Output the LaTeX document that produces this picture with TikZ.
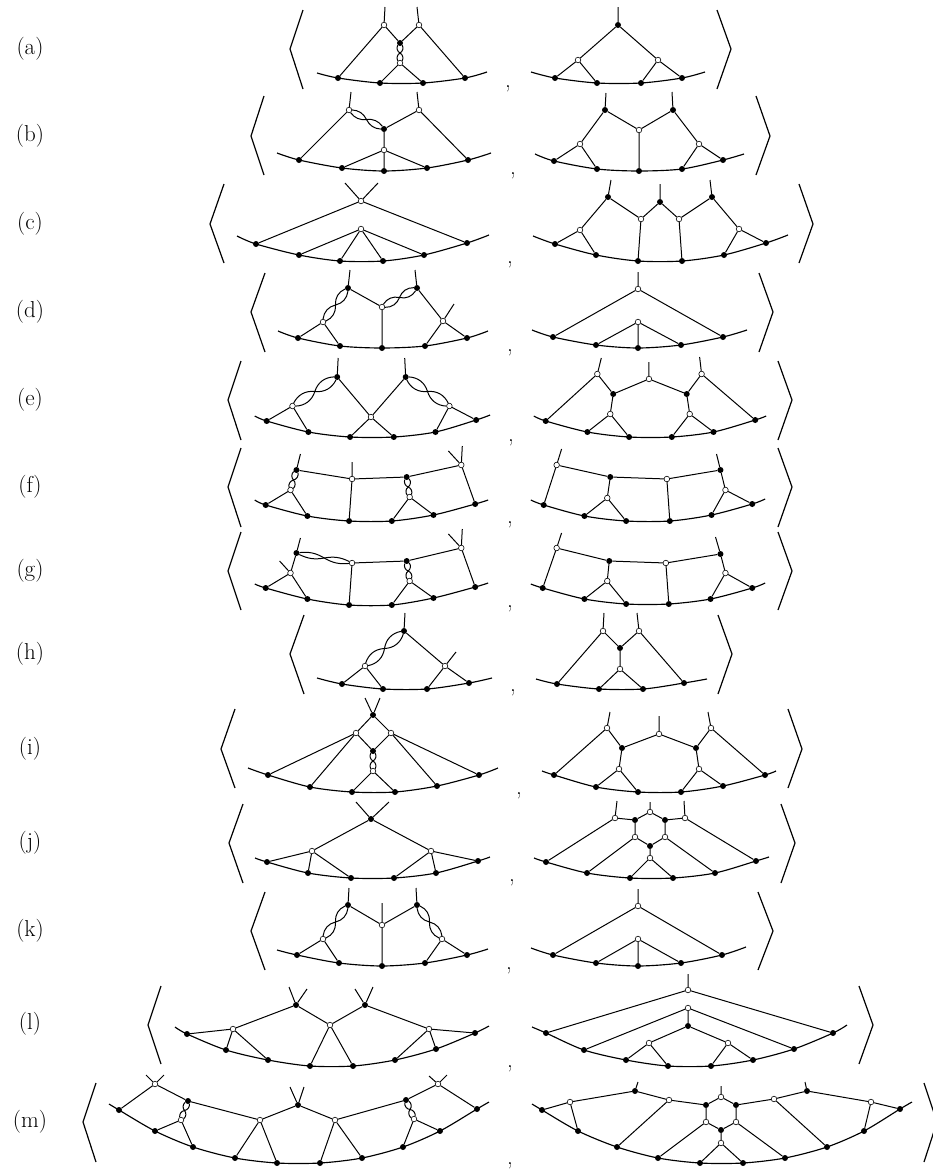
\documentclass[tikz,border=0pt]{standalone}
\usepackage{tikz}
\usetikzlibrary{calc}
\newcommand{\twist}[3][35]{
  \coordinate (#2#3) at ($(#2)!.5!(#3)$);
  \draw[link] (#2) to[bend left=#1] (#2#3) to[bend right=#1] (#3);
  \draw[link] (#2) to[bend right=#1] (#2#3) to[bend left=#1] (#3);
}
\begin{document}
\begin{tikzpicture}[
    x=1pt, y=-1pt,
    blackv/.style={circle, fill=black, inner sep=0pt, minimum size=6pt},
    whitev/.style={circle, draw=black, line width=.6pt, fill=white, inner sep=0pt, minimum size=5.6pt},
    link/.style={line width=1pt, black},
    rim/.style={line width=1.15pt, black},
    brak/.style={line width=1.2pt, black},
    tag/.style={font=\fontsize{23}{27}\selectfont},
    sep/.style={font=\fontsize{23}{27}\selectfont, anchor=base, yshift=1pt}
]
    \useasboundingbox (0,0) rectangle (933,1171);

    \node[tag] (aT) at (30,49) {(a)};
    \node[tag] (bT) at (30,136) {(b)};
    \node[tag] (cT) at (30,224) {(c)};
    \node[tag] (dT) at (30,312) {(d)};
    \node[tag] (eT) at (30,400) {(e)};
    \node[tag] (fT) at (30,487) {(f)};
    \node[tag] (gT) at (30,571) {(g)};
    \node[tag] (hT) at (30,654) {(h)};
    \node[tag] (iT) at (30,749) {(i)};
    \node[tag] (jT) at (30,843) {(j)};
    \node[tag] (kT) at (30,931) {(k)};
    \node[tag] (lT) at (30,1024) {(l)};
    \node[tag] (mT) at (30,1122) {(m)};

    \node[sep] (aC) at (508,88) {,};
    \node[sep] (bC) at (513,175) {,};
    \node[sep] (cC) at (510,264) {,};
    \node[sep] (dC) at (510,352) {,};
    \node[sep] (eC) at (511,442) {,};
    \node[sep] (fC) at (510,524) {,};
    \node[sep] (gC) at (510,608) {,};
    \node[sep] (hC) at (513,692) {,};
    \node[sep] (iC) at (519,795) {,};
    \node[sep] (jC) at (512,882) {,};
    \node[sep] (kC) at (509,970) {,};
    \node[sep] (lC) at (510,1068) {,};
    \node[sep] (mC) at (510,1165) {,};

    \draw[brak] (303,10) -- (290,49) -- (303,89);
    \draw[brak] (717,10) -- (731,49) -- (717,89);
    \draw[brak] (264,96) -- (251,136) -- (264,175);
    \draw[brak] (756,96) -- (770,136) -- (756,175);
    \draw[brak] (224,184) -- (210,224) -- (224,263);
    \draw[brak] (799,184) -- (813,224) -- (799,263);
    \draw[brak] (265,273) -- (251,312) -- (265,352);
    \draw[brak] (759,273) -- (773,312) -- (759,352);
    \draw[brak] (241,361) -- (228,400) -- (241,440);
    \draw[brak] (778,361) -- (792,400) -- (778,440);
    \draw[brak] (241,448) -- (228,487) -- (241,527);
    \draw[brak] (778,448) -- (792,487) -- (778,527);
    \draw[brak] (241,532) -- (228,571) -- (241,610);
    \draw[brak] (778,532) -- (792,571) -- (778,610);
    \draw[brak] (304,615) -- (290,654) -- (304,694);
    \draw[brak] (718,615) -- (732,654) -- (718,694);
    \draw[brak] (235,709) -- (221,749) -- (235,788);
    \draw[brak] (788,709) -- (802,749) -- (788,788);
    \draw[brak] (243,804) -- (229,843) -- (243,883);
    \draw[brak] (781,804) -- (795,843) -- (781,883);
    \draw[brak] (265,892) -- (251,931) -- (265,970);
    \draw[brak] (758,892) -- (773,931) -- (758,970);
    \draw[brak] (161,986) -- (148,1025) -- (161,1064);
    \draw[brak] (859,986) -- (873,1025) -- (859,1064);
    \draw[brak] (96,1083) -- (83,1122) -- (96,1162);
    \draw[brak] (924,1083) -- (937,1122) -- (924,1162);

    \foreach \n/\x/\y in {aL1/338/78, aL2/380/83, aL3/423/83, aL4/465/78, aLk1/400/43, aR1/555/78, aR2/597/83, aR3/641/83, aR4/682/78, aRk1/618/25} \node[blackv] (\n) at (\x,\y) {};
    \foreach \n/\x/\y in {aLw1/384/25, aLw2/419/25, aLw3/400/63, aRw1/578/60, aRw2/658/60} \node[whitev] (\n) at (\x,\y) {};
    \foreach \n/\x/\y in {aLe1/385/7, aLe2/417/7, aLr1/317/73, aLr2/487/72, aRe1/618/7, aRr1/531/72, aRr2/705/72} \coordinate (\n) at (\x,\y);
    \draw[rim] plot[smooth] coordinates {(aLr1) (aL1.center) (aL2.center) (aL3.center) (aL4.center) (aLr2)};
    \draw[rim] plot[smooth] coordinates {(aRr1) (aR1.center) (aR2.center) (aR3.center) (aR4.center) (aRr2)};
    \draw[link] (aLw1) -- (aLe1) (aLw2) -- (aLe2) (aLw1) -- (aLk1) (aLw2) -- (aLk1) (aLw1) -- (aL1) (aLw2) -- (aL4) (aLw3) -- (aL2) (aLw3) -- (aL3);
    \twist[45]{aLk1}{aLw3}
    \draw[link] (aRk1) -- (aRe1) (aRk1) -- (aRw1) (aRk1) -- (aRw2) (aRw1) -- (aR1) (aRw1) -- (aR2) (aRw2) -- (aR3) (aRw2) -- (aR4);

    \foreach \n/\x/\y in {bL1/299/160, bL2/342/168, bL3/384/171, bL4/427/168, bL5/468/160, bLk1/384/129, bR1/554/161, bR2/597/169, bR3/639/171, bR4/682/169, bR5/723/160, bRk1/605/110, bRk2/673/110} \node[blackv] (\n) at (\x,\y) {};
    \foreach \n/\x/\y in {bLw1/349/110, bLw2/419/110, bLw3/384/150, bRw1/639/130, bRw2/580/144, bRw3/699/144} \node[whitev] (\n) at (\x,\y) {};
    \foreach \n/\x/\y in {bLe1/351/92, bLe2/417/92, bLr1/277/153, bLr2/491/153, bRe1/606/93, bRe2/672/92, bRr1/535/154, bRr2/744/154} \coordinate (\n) at (\x,\y);
    \draw[rim] plot[smooth] coordinates {(bLr1) (bL1.center) (bL2.center) (bL3.center) (bL4.center) (bL5.center) (bLr2)};
    \draw[rim] plot[smooth] coordinates {(bRr1) (bR1.center) (bR2.center) (bR3.center) (bR4.center) (bR5.center) (bRr2)};
    \draw[link] (bLw1) -- (bLe1) (bLw2) -- (bLe2) (bLw2) -- (bLk1) (bLk1) -- (bLw3) (bLw3) -- (bL2) (bLw3) -- (bL3) (bLw3) -- (bL4) (bLw1) -- (bL1) (bLw2) -- (bL5);
    \twist[30]{bLw1}{bLk1}
    \draw[link] (bRk1) -- (bRe1) (bRk2) -- (bRe2) (bRk1) -- (bRw1) (bRk2) -- (bRw1) (bRw1) -- (bR3) (bRk1) -- (bRw2) (bRk2) -- (bRw3) (bRw2) -- (bR1) (bRw2) -- (bR2) (bRw3) -- (bR4) (bRw3) -- (bR5);

    \foreach \n/\x/\y in {cL1/256/244, cL2/299/255, cL3/340/261, cL4/383/261, cL5/424/255, cL6/467/243, cR1/555/244, cR2/596/255, cR3/638/261, cR4/682/261, cR5/724/255, cR6/766/243, cRk1/608/197, cRk2/660/202, cRk3/712/197} \node[blackv] (\n) at (\x,\y) {};
    \foreach \n/\x/\y in {cLw1/361/201, cLw2/361/229, cRw1/641/219, cRw2/679/219, cRw3/580/230, cRw4/739/229} \node[whitev] (\n) at (\x,\y) {};
    \foreach \n/\x/\y in {cLe1/345/183, cLe2/378/183, cLr1/237/236, cLr2/489/235, cRe1/611/180, cRe2/660/184, cRe3/710/180, cRr1/533/236, cRr2/788/235} \coordinate (\n) at (\x,\y);
    \draw[rim] plot[smooth] coordinates {(cLr1) (cL1.center) (cL2.center) (cL3.center) (cL4.center) (cL5.center) (cL6.center) (cLr2)};
    \draw[rim] plot[smooth] coordinates {(cRr1) (cR1.center) (cR2.center) (cR3.center) (cR4.center) (cR5.center) (cR6.center) (cRr2)};
    \draw[link] (cLw1) -- (cLe1) (cLw1) -- (cLe2) (cLw1) -- (cL1) (cLw1) -- (cL6) (cLw2) -- (cL2) (cLw2) -- (cL3) (cLw2) -- (cL4) (cLw2) -- (cL5);
    \draw[link] (cRk1) -- (cRe1) (cRk2) -- (cRe2) (cRk3) -- (cRe3) (cRk1) -- (cRw1) (cRk2) -- (cRw1) (cRk2) -- (cRw2) (cRk3) -- (cRw2) (cRw1) -- (cR3) (cRw2) -- (cR4) (cRk1) -- (cRw3) (cRk3) -- (cRw4) (cRw3) -- (cR1) (cRw3) -- (cR2) (cRw4) -- (cR5) (cRw4) -- (cR6);

    \foreach \n/\x/\y in {dL1/298/338, dL2/340/346, dL3/382/348, dL4/425/346, dL5/467/338, dLk1/348/288, dLk2/417/288, dR1/553/337, dR2/596/345, dR3/638/348, dR4/681/345, dR5/723/337} \node[blackv] (\n) at (\x,\y) {};
    \foreach \n/\x/\y in {dLw1/382/307, dLw2/323/322, dLw3/443/321, dRw1/638/289, dRw2/638/322} \node[whitev] (\n) at (\x,\y) {};
    \foreach \n/\x/\y in {dLe1/350/270, dLe2/415/270, dLe3/454/304, dLr1/278/331, dLr2/488/331, dRe1/638/272, dRr1/532/330, dRr2/747/330} \coordinate (\n) at (\x,\y);
    \draw[rim] plot[smooth] coordinates {(dLr1) (dL1.center) (dL2.center) (dL3.center) (dL4.center) (dL5.center) (dLr2)};
    \draw[rim] plot[smooth] coordinates {(dRr1) (dR1.center) (dR2.center) (dR3.center) (dR4.center) (dR5.center) (dRr2)};
    \draw[link] (dLk1) -- (dLe1) (dLk2) -- (dLe2) (dLw3) -- (dLe3) (dLk1) -- (dLw1) (dLk2) -- (dLw3) (dLw1) -- (dL3) (dLw2) -- (dL1) (dLw2) -- (dL2) (dLw3) -- (dL4) (dLw3) -- (dL5);
    \twist{dLw2}{dLk1}
    \twist{dLw1}{dLk2}
    \draw[link] (dRw1) -- (dRe1) (dRw1) -- (dR1) (dRw1) -- (dR5) (dRw2) -- (dR2) (dRw2) -- (dR3) (dRw2) -- (dR4);

    \begin{scope}[x=.993pt, xshift=1.54pt]
    \foreach \n/\x/\y in {eL1/267/421, eL2/309/432, eL3/351/437, eL4/395/437, eL5/437/432, eL6/478/420, eLk1/338/377, eLk2/407/377, eR1/548/421, eR2/590/432, eR3/632/437, eR4/675/437, eR5/717/432, eR6/759/420, eRk1/616/394, eRk2/690/394} \node[blackv] (\n) at (\x,\y) {};
    \foreach \n/\x/\y in {eLw1/372/417, eLw2/293/406, eLw3/451/406, eRw1/600/374, eRw2/705/374, eRw3/652/379, eRw4/613/414, eRw5/693/414} \node[whitev] (\n) at (\x,\y) {};
    \foreach \n/\x/\y in {eLe1/339/358, eLe2/406/358, eLr1/255/416, eLr2/492/415, eRe1/604/358, eRe2/703/357, eRe3/652/362, eRr1/536/416, eRr2/770/416} \coordinate (\n) at (\x,\y);
    \draw[rim] plot[smooth] coordinates {(eLr1) (eL1.center) (eL2.center) (eL3.center) (eL4.center) (eL5.center) (eL6.center) (eLr2)};
    \draw[rim] plot[smooth] coordinates {(eRr1) (eR1.center) (eR2.center) (eR3.center) (eR4.center) (eR5.center) (eR6.center) (eRr2)};
    \draw[link] (eLk1) -- (eLe1) (eLk2) -- (eLe2) (eLk1) -- (eLw1) (eLk2) -- (eLw1) (eLw1) -- (eL3) (eLw1) -- (eL4) (eLw2) -- (eL1) (eLw2) -- (eL2) (eLw3) -- (eL5) (eLw3) -- (eL6);
    \twist{eLw2}{eLk1}
    \twist{eLk2}{eLw3}
    \draw[link] (eRw1) -- (eRe1) (eRw2) -- (eRe2) (eRw3) -- (eRe3) (eRw1) -- (eR1) (eRw2) -- (eR6) (eRw1) -- (eRk1) (eRw2) -- (eRk2) (eRk1) -- (eRw3) (eRk2) -- (eRw3) (eRk1) -- (eRw4) (eRk2) -- (eRw5) (eRw4) -- (eR2) (eRw4) -- (eR3) (eRw5) -- (eR4) (eRw5) -- (eR5);

    \foreach \n/\x/\y in {fL1/266/505, fL2/308/516, fL3/350/521, fL4/393/521, fL5/435/515, fL6/477/504, fLk1/297/470, fLk2/408/477, fR1/546/505, fR2/587/516, fR3/629/521, fR4/673/521, fR5/715/515, fR6/756/504, fRk1/613/477, fRk2/724/470} \node[blackv] (\n) at (\x,\y) {};
    \foreach \n/\x/\y in {fLw1/291/490, fLw2/353/479, fLw3/411/497, fLw4/463/465, fRw1/559/465, fRw2/670/479, fRw3/610/498, fRw4/729/490} \node[whitev] (\n) at (\x,\y) {};
    \foreach \n/\x/\y in {fLe1/301/454, fLe2/353/462, fLe3/464/446, fLe4/450/451, fLr1/255/500, fLr2/490/500, fRe1/564/449, fRe2/720/454, fRr1/533/500, fRr2/769/499} \coordinate (\n) at (\x,\y);
    \draw[rim] plot[smooth] coordinates {(fLr1) (fL1.center) (fL2.center) (fL3.center) (fL4.center) (fL5.center) (fL6.center) (fLr2)};
    \draw[rim] plot[smooth] coordinates {(fRr1) (fR1.center) (fR2.center) (fR3.center) (fR4.center) (fR5.center) (fR6.center) (fRr2)};
    \draw[link] (fLk1) -- (fLe1) (fLw2) -- (fLe2) (fLw4) -- (fLe3) (fLw4) -- (fLe4) (fLk1) -- (fLw2) (fLw2) -- (fLk2) (fLk2) -- (fLw4) (fLw2) -- (fL3) (fLw4) -- (fL6) (fLw1) -- (fL1) (fLw1) -- (fL2) (fLw3) -- (fL4) (fLw3) -- (fL5);
    \twist[45]{fLk1}{fLw1}
    \twist[45]{fLk2}{fLw3}
    \draw[link] (fRw1) -- (fRe1) (fRk2) -- (fRe2) (fRw1) -- (fRk1) (fRk1) -- (fRw2) (fRw2) -- (fRk2) (fRw1) -- (fR1) (fRk1) -- (fRw3) (fRw3) -- (fR2) (fRw3) -- (fR3) (fRw2) -- (fR4) (fRk2) -- (fRw4) (fRw4) -- (fR5) (fRw4) -- (fR6);

    \foreach \n/\x/\y in {gL1/266/588, gL2/308/599, gL3/350/605, gL4/393/605, gL5/435/598, gL6/477/587, gLk1/297/553, gLk2/408/561, gR1/545/588, gR2/587/599, gR3/629/604, gR4/672/604, gR5/714/599, gR6/756/588, gRk1/612/561, gRk2/724/554} \node[blackv] (\n) at (\x,\y) {};
    \foreach \n/\x/\y in {gLw1/291/573, gLw2/353/563, gLw3/411/581, gLw4/463/548, gRw1/559/548, gRw2/669/563, gRw3/610/581, gRw4/729/573} \node[whitev] (\n) at (\x,\y) {};
    \foreach \n/\x/\y in {gLe1/301/538, gLe2/280/561, gLe3/464/529, gLe4/450/534, gLr1/255/584, gLr2/490/583, gRe1/564/533, gRe2/719/537, gRr1/533/584, gRr2/769/583} \coordinate (\n) at (\x,\y);
    \draw[rim] plot[smooth] coordinates {(gLr1) (gL1.center) (gL2.center) (gL3.center) (gL4.center) (gL5.center) (gL6.center) (gLr2)};
    \draw[rim] plot[smooth] coordinates {(gRr1) (gR1.center) (gR2.center) (gR3.center) (gR4.center) (gR5.center) (gR6.center) (gRr2)};
    \draw[link] (gLk1) -- (gLe1) (gLw1) -- (gLe2) (gLw4) -- (gLe3) (gLw4) -- (gLe4) (gLk1) -- (gLw1) (gLw2) -- (gLk2) (gLk2) -- (gLw4) (gLw2) -- (gL3) (gLw4) -- (gL6) (gLw1) -- (gL1) (gLw1) -- (gL2) (gLw3) -- (gL4) (gLw3) -- (gL5);
    \twist[18]{gLk1}{gLw2}
    \twist[45]{gLk2}{gLw3}
    \draw[link] (gRw1) -- (gRe1) (gRk2) -- (gRe2) (gRw1) -- (gRk1) (gRk1) -- (gRw2) (gRw2) -- (gRk2) (gRw1) -- (gR1) (gRk1) -- (gRw3) (gRw3) -- (gR2) (gRw3) -- (gR3) (gRw2) -- (gR4) (gRk2) -- (gRw4) (gRw4) -- (gR5) (gRw4) -- (gR6);
    \end{scope}

    \foreach \n/\x/\y in {hL1/342/684, hL2/383/689, hL3/427/689, hL4/469/683, hLk1/404/631, hR1/557/684, hR2/599/689, hR3/643/689, hR4/684/683, hRk1/620/648} \node[blackv] (\n) at (\x,\y) {};
    \foreach \n/\x/\y in {hLw1/365/666, hLw2/445/666, hRw1/603/631, hRw2/639/631, hRw3/620/669} \node[whitev] (\n) at (\x,\y) {};
    \foreach \n/\x/\y in {hLe1/405/613, hLe2/456/652, hLr1/317/678, hLr2/492/678, hRe1/604/613, hRe2/637/613, hRr1/536/679, hRr2/707/679} \coordinate (\n) at (\x,\y);
    \draw[rim] plot[smooth] coordinates {(hLr1) (hL1.center) (hL2.center) (hL3.center) (hL4.center) (hLr2)};
    \draw[rim] plot[smooth] coordinates {(hRr1) (hR1.center) (hR2.center) (hR3.center) (hR4.center) (hRr2)};
    \draw[link] (hLk1) -- (hLe1) (hLw2) -- (hLe2) (hLk1) -- (hLw2) (hLw1) -- (hL1) (hLw1) -- (hL2) (hLw2) -- (hL3) (hLw2) -- (hL4);
    \twist{hLw1}{hLk1}
    \draw[link] (hRw1) -- (hRe1) (hRw2) -- (hRe2) (hRw1) -- (hRk1) (hRw2) -- (hRk1) (hRk1) -- (hRw3) (hRw3) -- (hR2) (hRw3) -- (hR3) (hRw1) -- (hR1) (hRw2) -- (hR4);

    \foreach \n/\x/\y in {iL1/268/775, iL2/310/787, iL3/352/792, iL4/395/792, iL5/437/786, iL6/479/775, iLk1/373/715, iLk2/373/751, iR1/554/775, iR2/596/787, iR3/638/792, iR4/681/792, iR5/723/786, iR6/765/775, iRk1/622/748, iRk2/696/748} \node[blackv] (\n) at (\x,\y) {};
    \foreach \n/\x/\y in {iLw1/356/733, iLw2/391/733, iLw3/373/771, iRw1/607/728, iRw2/711/728, iRw3/659/734, iRw4/619/769, iRw5/699/769} \node[whitev] (\n) at (\x,\y) {};
    \foreach \n/\x/\y in {iLe1/365/698, iLe2/380/698, iLr1/248/768, iLr2/498/768, iRe1/610/712, iRe2/708/712, iRe3/659/716, iRr1/542/771, iRr2/776/771} \coordinate (\n) at (\x,\y);
    \draw[rim] plot[smooth] coordinates {(iLr1) (iL1.center) (iL2.center) (iL3.center) (iL4.center) (iL5.center) (iL6.center) (iLr2)};
    \draw[rim] plot[smooth] coordinates {(iRr1) (iR1.center) (iR2.center) (iR3.center) (iR4.center) (iR5.center) (iR6.center) (iRr2)};
    \draw[link] (iLk1) -- (iLe1) (iLk1) -- (iLe2) (iLk1) -- (iLw1) (iLk1) -- (iLw2) (iLw1) -- (iLk2) (iLw2) -- (iLk2) (iLw3) -- (iL3) (iLw3) -- (iL4) (iLw1) -- (iL1) (iLw1) -- (iL2) (iLw2) -- (iL5) (iLw2) -- (iL6);
    \twist[45]{iLk2}{iLw3}
    \draw[link] (iRw1) -- (iRe1) (iRw2) -- (iRe2) (iRw3) -- (iRe3) (iRw1) -- (iR1) (iRw2) -- (iR6) (iRw1) -- (iRk1) (iRw2) -- (iRk2) (iRk1) -- (iRw3) (iRk2) -- (iRw3) (iRk1) -- (iRw4) (iRk2) -- (iRw5) (iRw4) -- (iR2) (iRw4) -- (iR3) (iRw5) -- (iR4) (iRw5) -- (iR5);

    \foreach \n/\x/\y in {jL1/267/862, jL2/308/873, jL3/351/878, jL4/394/878, jL5/436/873, jL6/478/861, jLk1/371/819, jR1/546/862, jR2/587/873, jR3/630/878, jR4/673/878, jR5/715/873, jR6/756/861, jRk1/635/820, jRk2/665/820, jRk3/650/846} \node[blackv] (\n) at (\x,\y) {};
    \foreach \n/\x/\y in {jLw1/312/851, jLw2/431/851, jRw1/615/818, jRw2/685/818, jRw3/650/812, jRw4/635/837, jRw5/665/837, jRw6/650/858} \node[whitev] (\n) at (\x,\y) {};
    \foreach \n/\x/\y in {jLe1/356/802, jLe2/389/802, jLr1/255/858, jLr2/490/857, jRe1/617/801, jRe2/684/801, jRe3/650/802, jRr1/534/858, jRr2/769/857} \coordinate (\n) at (\x,\y);
    \draw[rim] plot[smooth] coordinates {(jLr1) (jL1.center) (jL2.center) (jL3.center) (jL4.center) (jL5.center) (jL6.center) (jLr2)};
    \draw[rim] plot[smooth] coordinates {(jRr1) (jR1.center) (jR2.center) (jR3.center) (jR4.center) (jR5.center) (jR6.center) (jRr2)};
    \draw[link] (jLk1) -- (jLe1) (jLk1) -- (jLe2) (jLk1) -- (jLw1) (jLk1) -- (jLw2) (jLw1) -- (jL1) (jLw1) -- (jL2) (jLw1) -- (jL3) (jLw2) -- (jL4) (jLw2) -- (jL5) (jLw2) -- (jL6);
    \draw[link] (jRw1) -- (jRe1) (jRw2) -- (jRe2) (jRw3) -- (jRe3) (jRw1) -- (jRk1) (jRk1) -- (jRw3) (jRw3) -- (jRk2) (jRk2) -- (jRw2) (jRk1) -- (jRw4) (jRk2) -- (jRw5) (jRw4) -- (jRk3) (jRw5) -- (jRk3) (jRk3) -- (jRw6) (jRw6) -- (jR3) (jRw6) -- (jR4) (jRw1) -- (jR1) (jRw2) -- (jR6) (jRw4) -- (jR2) (jRw5) -- (jR5);

    \foreach \n/\x/\y in {kL1/297/955, kL2/339/963, kL3/382/966, kL4/425/963, kL5/467/955, kLk1/348/905, kLk2/417/905, kR1/553/955, kR2/596/963, kR3/638/966, kR4/681/963, kR5/722/955} \node[blackv] (\n) at (\x,\y) {};
    \foreach \n/\x/\y in {kLw1/382/925, kLw2/323/939, kLw3/442/939, kRw1/638/906, kRw2/638/939} \node[whitev] (\n) at (\x,\y) {};
    \foreach \n/\x/\y in {kLe1/349/888, kLe2/416/888, kLe3/382/903, kLr1/277/950, kLr2/488/949, kRe1/638/889, kRr1/531/948, kRr2/746/947} \coordinate (\n) at (\x,\y);
    \draw[rim] plot[smooth] coordinates {(kLr1) (kL1.center) (kL2.center) (kL3.center) (kL4.center) (kL5.center) (kLr2)};
    \draw[rim] plot[smooth] coordinates {(kRr1) (kR1.center) (kR2.center) (kR3.center) (kR4.center) (kR5.center) (kRr2)};
    \draw[link] (kLk1) -- (kLe1) (kLk2) -- (kLe2) (kLw1) -- (kLe3) (kLk1) -- (kLw1) (kLk2) -- (kLw1) (kLw1) -- (kL3) (kLw2) -- (kL1) (kLw2) -- (kL2) (kLw3) -- (kL4) (kLw3) -- (kL5);
    \twist{kLw2}{kLk1}
    \twist{kLk2}{kLw3}
    \draw[link] (kRw1) -- (kRe1) (kRw1) -- (kR1) (kRw1) -- (kR5) (kRw2) -- (kR2) (kRw2) -- (kR3) (kRw2) -- (kR4);

    \foreach \n/\x/\y in {lL1/187/1034, lL2/226/1050, lL3/268/1060, lL4/310/1066, lL5/353/1066, lL6/395/1060, lL7/436/1049, lL8/475/1033, lLk1/296/1005, lLk2/365/1005, lR1/546/1033, lR2/584/1050, lR3/626/1060, lR4/668/1066, lR5/711/1066, lR6/753/1060, lR7/794/1049, lR8/833/1033, lRk1/688/1026} \node[blackv] (\n) at (\x,\y) {};
    \foreach \n/\x/\y in {lLw1/330/1025, lLw2/233/1029, lLw3/429/1029, lRw1/688/990, lRw2/688/1008, lRw3/649/1043, lRw4/728/1043} \node[whitev] (\n) at (\x,\y) {};
    \foreach \n/\x/\y in {lLe1/289/987, lLe2/307/989, lLe3/355/989, lLe4/373/987, lLr1/175/1027, lLr2/489/1026, lRe1/688/974, lRr1/532/1027, lRr2/847/1025} \coordinate (\n) at (\x,\y);
    \draw[rim] plot[smooth] coordinates {(lLr1) (lL1.center) (lL2.center) (lL3.center) (lL4.center) (lL5.center) (lL6.center) (lL7.center) (lL8.center) (lLr2)};
    \draw[rim] plot[smooth] coordinates {(lRr1) (lR1.center) (lR2.center) (lR3.center) (lR4.center) (lR5.center) (lR6.center) (lR7.center) (lR8.center) (lRr2)};
    \draw[link] (lLk1) -- (lLe1) (lLk1) -- (lLe2) (lLk2) -- (lLe3) (lLk2) -- (lLe4) (lLw2) -- (lLk1) (lLk1) -- (lLw1) (lLw1) -- (lLk2) (lLk2) -- (lLw3) (lLw2) -- (lL1) (lLw2) -- (lL2) (lLw2) -- (lL3) (lLw1) -- (lL4) (lLw1) -- (lL5) (lLw3) -- (lL6) (lLw3) -- (lL7) (lLw3) -- (lL8);
    \draw[link] (lRw1) -- (lRe1) (lRw1) -- (lR1) (lRw1) -- (lR8) (lRw2) -- (lR2) (lRw2) -- (lR7) (lRw2) -- (lRk1) (lRk1) -- (lRw3) (lRk1) -- (lRw4) (lRw3) -- (lR3) (lRw3) -- (lR4) (lRw4) -- (lR5) (lRw4) -- (lR6);

    \foreach \n/\x/\y in {mL1/119/1110, mL2/155/1131, mL3/193/1147, mL4/235/1158, mL5/277/1163, mL6/320/1163, mL7/362/1158, mL8/403/1147, mL9/440/1131, mL10/477/1109, mLk1/188/1101, mLk2/406/1100, mLk3/298/1105, mR1/542/1110, mR2/578/1131, mR3/617/1147, mR4/658/1158, mR5/700/1163, mR6/743/1163, mR7/785/1158, mR8/827/1147, mR9/864/1131, mR10/900/1109, mRk1/635/1091, mRk2/706/1105, mRk3/736/1105, mRk4/807/1091, mRk5/721/1130} \node[blackv] (\n) at (\x,\y) {};
    \foreach \n/\x/\y in {mLw1/155/1084, mLw2/438/1084, mLw3/181/1120, mLw4/414/1119, mLw5/260/1120, mLw6/335/1120, mRw1/570/1102, mRw2/669/1100, mRw3/721/1097, mRw4/774/1099, mRw5/871/1102, mRw6/706/1122, mRw7/736/1122, mRw8/721/1143} \node[whitev] (\n) at (\x,\y) {};
    \foreach \n/\x/\y in {mLe1/146/1075, mLe2/164/1075, mLe3/429/1076, mLe4/447/1075, mLe5/290/1087, mLe6/304/1087, mLr1/109/1104, mLr2/489/1102, mRe1/638/1082, mRe2/721/1086, mRe3/805/1082, mRr1/532/1104, mRr2/912/1102} \coordinate (\n) at (\x,\y);
    \draw[rim] plot[smooth] coordinates {(mLr1) (mL1.center) (mL2.center) (mL3.center) (mL4.center) (mL5.center) (mL6.center) (mL7.center) (mL8.center) (mL9.center) (mL10.center) (mLr2)};
    \draw[rim] plot[smooth] coordinates {(mRr1) (mR1.center) (mR2.center) (mR3.center) (mR4.center) (mR5.center) (mR6.center) (mR7.center) (mR8.center) (mR9.center) (mR10.center) (mRr2)};
    \draw[link] (mLw1) -- (mLe1) (mLw1) -- (mLe2) (mLw2) -- (mLe3) (mLw2) -- (mLe4) (mLk3) -- (mLe5) (mLk3) -- (mLe6) (mL1) -- (mLw1) (mLw1) -- (mLk1) (mLk1) -- (mLw5) (mLw5) -- (mLk3) (mLk3) -- (mLw6) (mLw6) -- (mLk2) (mLk2) -- (mLw2) (mLw2) -- (mL10) (mLw3) -- (mL2) (mLw3) -- (mL3) (mLw5) -- (mL4) (mLw5) -- (mL5) (mLw6) -- (mL6) (mLw6) -- (mL7) (mLw4) -- (mL8) (mLw4) -- (mL9);
    \twist[45]{mLk1}{mLw3}
    \twist[45]{mLk2}{mLw4}
    \draw[link] (mRk1) -- (mRe1) (mRw3) -- (mRe2) (mRk4) -- (mRe3) (mR1) -- (mRw1) (mRw1) -- (mRk1) (mRk1) -- (mRw2) (mRw2) -- (mRk2) (mRk2) -- (mRw3) (mRw3) -- (mRk3) (mRk3) -- (mRw4) (mRw4) -- (mRk4) (mRk4) -- (mRw5) (mRw5) -- (mR10) (mRw1) -- (mR2) (mRw2) -- (mR3) (mRk2) -- (mRw6) (mRk3) -- (mRw7) (mRw6) -- (mRk5) (mRw7) -- (mRk5) (mRk5) -- (mRw8) (mRw8) -- (mR5) (mRw8) -- (mR6) (mRw6) -- (mR4) (mRw7) -- (mR7) (mRw4) -- (mR8) (mRw5) -- (mR9);
\end{tikzpicture}
\end{document}
